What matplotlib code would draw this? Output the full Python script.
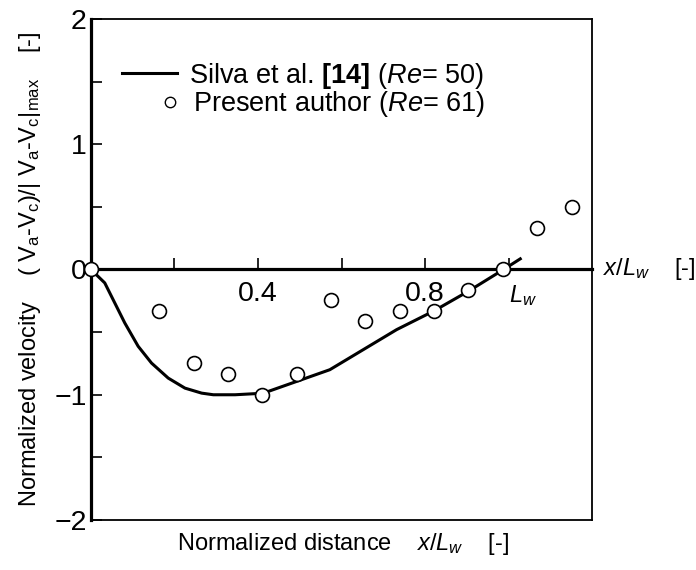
import matplotlib
matplotlib.use("Agg")
import matplotlib.pyplot as plt
from matplotlib.lines import Line2D

plt.rcParams['font.family'] = ['Liberation Sans', 'DejaVu Sans']
plt.rcParams['mathtext.fontset'] = 'custom'
plt.rcParams['mathtext.rm'] = 'Liberation Sans'
plt.rcParams['mathtext.it'] = 'Liberation Sans:italic'
plt.rcParams['mathtext.bf'] = 'Liberation Sans:bold'

# Silva et al. curve (Re = 50)
silva_x = [0.0, 0.033, 0.057, 0.081, 0.113, 0.145, 0.185, 0.225, 0.265, 0.293,
           0.345, 0.40, 0.413, 0.493, 0.572, 0.652, 0.732, 0.82, 0.904, 0.988, 1.028]
silva_y = [0.0, -0.107, -0.267, -0.427, -0.613, -0.747, -0.867, -0.947, -0.987, -1.0,
           -1.0, -0.99, -0.987, -0.893, -0.80, -0.64, -0.48, -0.333, -0.173, 0.0, 0.085]

# Present author measurements (Re = 61)
pres_x = [0.0, 0.163, 0.246, 0.329, 0.41, 0.493, 0.575, 0.657, 0.739, 0.822,
          0.904, 0.986, 1.069, 1.151]
pres_y = [0.0, -0.333, -0.747, -0.832, -1.0, -0.832, -0.245, -0.413, -0.331,
          -0.333, -0.16, 0.005, 0.333, 0.50]

xticks = [0.2, 0.4, 0.6, 0.8, 1.0]
xticklabels = ['', '0.4', '', '0.8', '']
yticks = [-2, -1, 0, 1, 2]
yticklabels = ['\u22122', '\u22121', '0', '1', '2']

fig = plt.figure(figsize=(6.96, 5.70), dpi=100)
ax = fig.add_axes([0.1307, 0.0877, 0.72, 0.879])

ax.plot(silva_x, silva_y, color='black', lw=2.2, zorder=3, clip_on=False)
ax.plot(pres_x, pres_y, 'o', ms=10, mfc='white', mec='black', mew=1.2,
        zorder=5, clip_on=False)

ax.set_xlim(0, 1.2)
ax.set_ylim(-2, 2)

# zero line carries the x ticks; the frame bottom is drawn separately
ax.spines['bottom'].set_position(('data', 0))
ax.spines['bottom'].set_linewidth(2.3)
ax.spines['left'].set_linewidth(2.3)
for s in ['top', 'right']:
    ax.spines[s].set_linewidth(1.3)
ax.axhline(-2, color='black', lw=1.3, clip_on=False)

ax.set_xticks(xticks)
ax.set_xticklabels(xticklabels, fontsize=20.5)
ax.tick_params(axis='x', direction='in', length=8, width=1.2, pad=8.5)

ax.set_yticks(yticks)
ax.set_yticklabels(yticklabels, fontsize=20.5)
ax.set_yticks([-1.5, -0.5, 0.5, 1.5], minor=True)
ax.tick_params(axis='y', which='both', direction='in', length=8, width=1.2, pad=3)

ax.text(1.226, 0, r'$x/L_w$    [-]', fontsize=17, ha='left', va='center',
        clip_on=False)
ax.text(1.0, -0.21, r'$L_w$', fontsize=17, ha='left', va='center')

fig.text(0.493, 0.045, r'Normalized distance    $x/L_w$    [-]', fontsize=17,
         ha='center', va='center')
ax.set_ylabel(r'Normalized velocity    ( $\mathrm{V_a}$-$\mathrm{V_c}$)/| '
              r'$\mathrm{V_a}$-$\mathrm{V_c}|_\mathrm{max}$    [-]',
              fontsize=17, labelpad=8)

h1 = Line2D([], [], color='black', lw=2.2)
h2 = Line2D([], [], ls='none', marker='o', ms=7.5, mfc='white', mec='black', mew=1.0)
leg1 = ax.legend([h1], [r'Silva et al. $\mathbf{[14]}$ ($\mathit{Re}$= 50)'],
                 loc='upper left', bbox_to_anchor=(0.062, 0.917), frameon=False,
                 fontsize=19.5, handlelength=2.04, handletextpad=0.45, borderpad=0,
                 borderaxespad=0)
ax.add_artist(leg1)
ax.legend([h2], [r'Present author ($\mathit{Re}$= 61)'],
          loc='upper left', bbox_to_anchor=(0.142, 0.86), frameon=False,
          fontsize=19.5, handlelength=0.6, handletextpad=0.55, borderpad=0,
          borderaxespad=0)

fig.savefig('out.png', dpi=100)
